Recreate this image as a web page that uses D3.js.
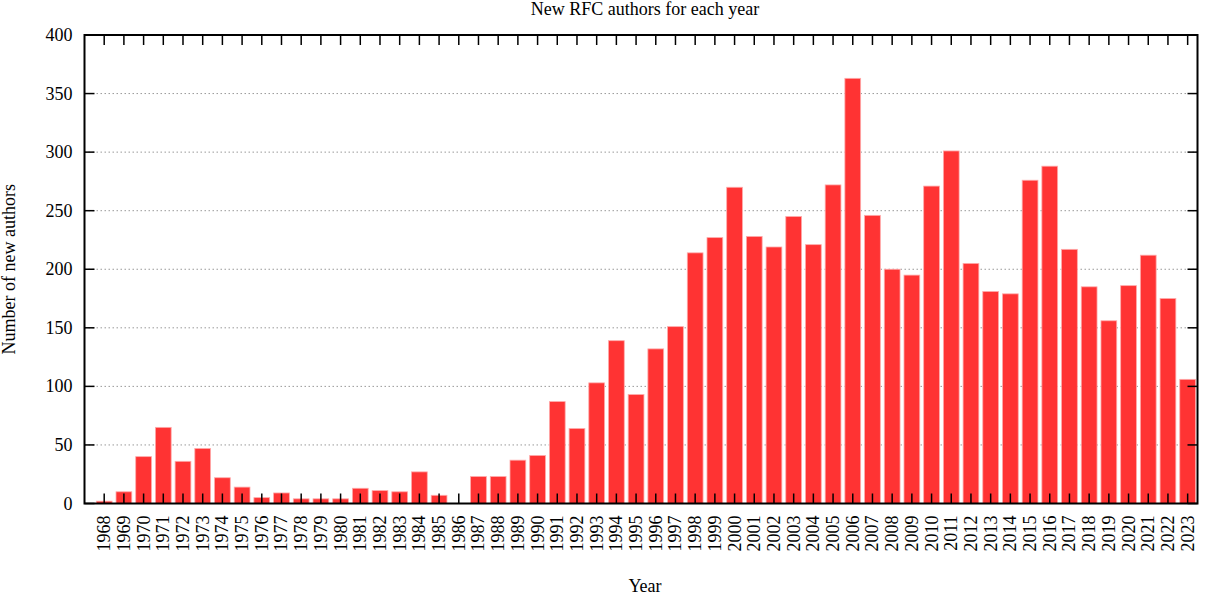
<!DOCTYPE html>
<html><head><meta charset="utf-8">
<script src="https://cdn.jsdelivr.net/npm/d3@7"></script>
<style>body{margin:0;background:#fff}svg{display:block}text{font-family:"Liberation Serif","Times New Roman",serif;fill:#000}</style>
</head><body><svg id="c" width="1208" height="597"></svg>
<script>
const years = d3.range(1968, 2024);
const authors = [2,10,40,65,36,47,22,14,5,9,4,4,4,13,11,10,27,7,0,23,23,37,41,87,64,103,139,93,132,151,214,227,270,228,219,245,221,272,363,246,200,195,271,301,205,181,179,276,288,217,185,156,186,212,175,106];
const yTicks = [0,50,100,150,200,250,300,350,400];
const title = "New RFC authors for each year";
const xTitle = "Year";
const yTitle = "Number of new authors";

const svg = d3.select("#c");
const L=84.5, R=1197.5, T=35, B=503.5;
const x = d3.scaleLinear().domain([1967, 2023.5]).range([L, R]);
const y = d3.scaleLinear().domain([0, 400]).range([B, T]);
const bw = (x(1)-x(0))*0.8;

// grid
svg.append("g").selectAll("line").data(yTicks.filter(v=>v>0&&v<400)).join("line")
  .attr("x1",L).attr("x2",R).attr("y1",d=>y(d)).attr("y2",d=>y(d))
  .attr("stroke","#999").attr("stroke-width",1).attr("stroke-dasharray","1.5,2.5");

// bars
svg.append("g").selectAll("rect").data(years).join("rect")
  .attr("x",(d)=>x(d)-bw/2).attr("width",bw)
  .attr("y",(d,i)=>y(authors[i])).attr("height",(d,i)=>y(0)-y(authors[i]))
  .attr("fill","#ff3333").attr("stroke","#ffaaaa").attr("stroke-width",0.8);

// ticks x (bottom and top, inward)
const tl = 10;
const gx = svg.append("g");
gx.selectAll("line.b").data(years).join("line").attr("class","b")
  .attr("x1",d=>x(d)).attr("x2",d=>x(d)).attr("y1",B).attr("y2",B-tl).attr("stroke","#000").attr("stroke-width",1.5);
gx.selectAll("line.t").data(years).join("line").attr("class","t")
  .attr("x1",d=>x(d)).attr("x2",d=>x(d)).attr("y1",T).attr("y2",T+tl).attr("stroke","#000").attr("stroke-width",1.5);
gx.selectAll("text").data(years).join("text")
  .attr("transform",d=>`translate(${x(d)+6},${B+12}) rotate(-90)`)
  .attr("text-anchor","end").attr("font-size",18).text(d=>d);

// ticks y (left and right, inward)
const gy = svg.append("g");
gy.selectAll("line.l").data(yTicks).join("line").attr("class","l")
  .attr("x1",L).attr("x2",L+tl).attr("y1",d=>y(d)).attr("y2",d=>y(d)).attr("stroke","#000").attr("stroke-width",1.5);
gy.selectAll("line.r").data(yTicks).join("line").attr("class","r")
  .attr("x1",R).attr("x2",R-tl).attr("y1",d=>y(d)).attr("y2",d=>y(d)).attr("stroke","#000").attr("stroke-width",1.5);
gy.selectAll("text").data(yTicks).join("text")
  .attr("x",L-12).attr("y",d=>y(d)+6).attr("text-anchor","end").attr("font-size",18).text(d=>d);

// frame
svg.append("rect").attr("x",L).attr("y",T).attr("width",R-L).attr("height",B-T)
  .attr("fill","none").attr("stroke","#000").attr("stroke-width",2);

svg.append("text").attr("x",645).attr("y",15).attr("text-anchor","middle").attr("font-size",18).text(title);
svg.append("text").attr("x",645).attr("y",592).attr("text-anchor","middle").attr("font-size",18).text(xTitle);
svg.append("text").attr("transform",`translate(15,${(T+B)/2}) rotate(-90)`).attr("text-anchor","middle").attr("font-size",18).text(yTitle);
</script></body></html>
